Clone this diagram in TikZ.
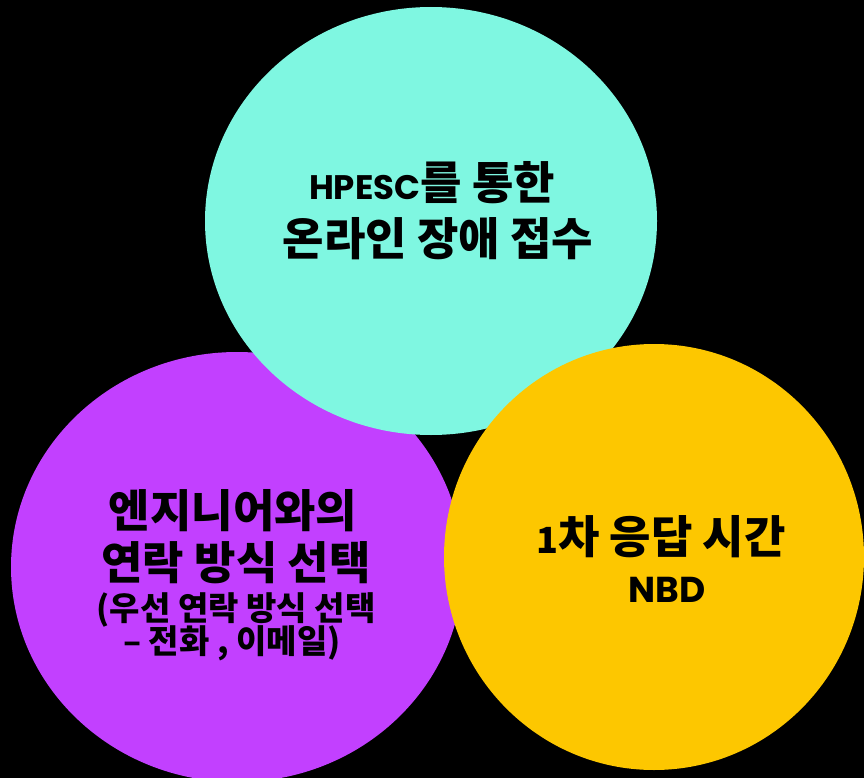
\documentclass[tikz,border=0pt]{standalone}
\usepackage{fontspec}
\setmainfont{Noto Sans CJK KR}
\newfontfamily\latinfont{Poppins}
\definecolor{tealfill}{HTML}{7FF7E1}
\definecolor{violetfill}{HTML}{C240FF}
\definecolor{amberfill}{HTML}{FDC700}
\tikzset{
  big/.style={anchor=base, inner sep=0pt, font=\fontsize{45}{50}\selectfont\bfseries},
  small/.style={anchor=base, inner sep=0pt, font=\fontsize{33}{36}\selectfont\bfseries},
}
\newcommand{\lat}[2]{{\latinfont\fontsize{#1}{#1}\selectfont\bfseries #2}}
\begin{document}
\begin{tikzpicture}[x=1pt, y=-1pt]
  % canvas
  \fill[black] (0,0) rectangle (864,778);
  \useasboundingbox (0,0) rectangle (864,778);
  % the three discs, back to front
  \fill[violetfill] (237,567) ellipse [x radius=226, y radius=215];
  \fill[tealfill]   (431,221) ellipse [x radius=226, y radius=214];
  \fill[amberfill]  (654,557) ellipse [x radius=210, y radius=213];
  % online intake
  \node[big] (t1) at (432,200) {\lat{34}{HPESC}를 통한};
  \node[big] (t2) at (438,255) {온라인 장애 접수};
  % contact method
  \node[big]   (p1) at (233,527) {엔지니어와의};
  \node[big]   (p2) at (236,579) {연락 방식 선택};
  \node[small] (p3) at (236,620) {(우선 연락 방식 선택};
  \node[small] (p4) at (232,653) {– 전화 , 이메일)};
  % response time
  \node[big] (y1) at (661,553) {{\fontsize{36}{36}\selectfont 1}차 응답 시간};
  \node[big] (y2) at (667,602) {\lat{36}{NBD}};
\end{tikzpicture}
\end{document}
